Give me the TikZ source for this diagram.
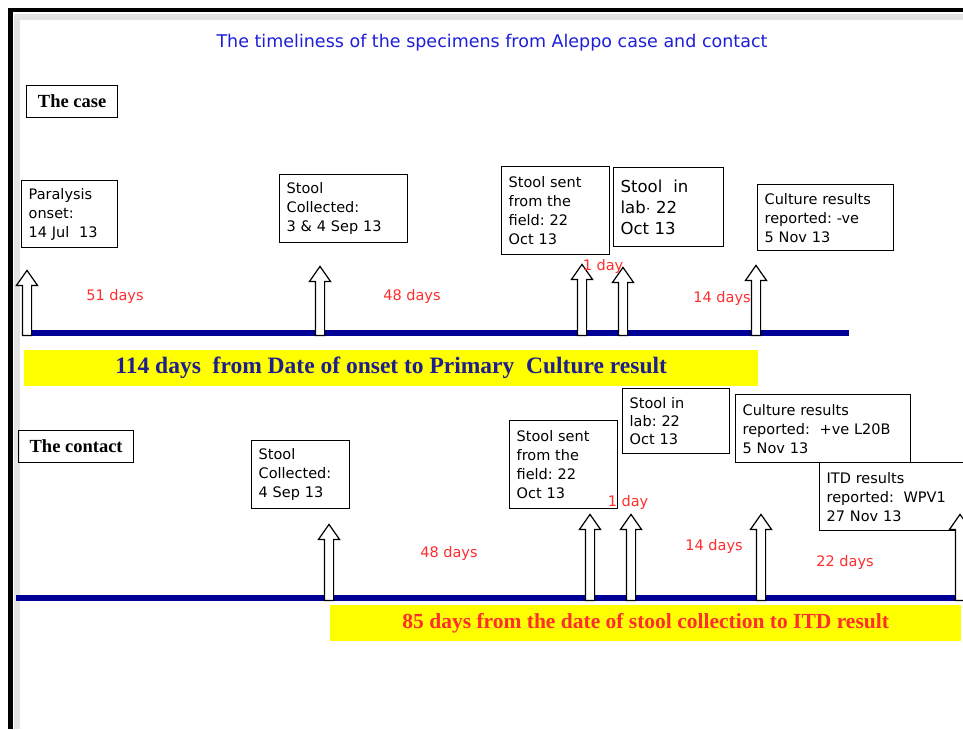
\documentclass[tikz,border=0pt]{standalone}
\usepackage{fontspec}
\setmainfont{Liberation Serif}
\newfontfamily\boxfont{DejaVu Sans}
\usepackage{tikz}
\usetikzlibrary{positioning,shapes.arrows}
\definecolor{lineblue}{RGB}{0,0,150}
\definecolor{titleblue}{RGB}{30,30,215}
\definecolor{navy}{RGB}{30,30,140}
\definecolor{dayred}{RGB}{255,45,45}
\definecolor{baryellow}{RGB}{255,255,0}
\tikzset{
    event/.style = {draw, line width=1.3pt, fill=white, anchor=north west, align=left,
                 inner xsep=7pt, inner ysep=3pt, font=\boxfont\fontsize{14.5}{19}\selectfont},
    who/.style = {draw, line width=1.3pt, anchor=north west, inner sep=0pt,
                 font=\bfseries\fontsize{18.5}{20}\selectfont},
    days/.style = {text=dayred, inner sep=0pt, font=\boxfont\fontsize{14.5}{16}\selectfont},
    uparrow/.style = {single arrow, draw, line width=1.2pt, fill=white, rotate=90, anchor=west,
                 minimum height=#1, inner xsep=0pt, inner ysep=4pt,
                 single arrow head extend=6pt, single arrow tip angle=70},
    timeline/.style = {draw=lineblue, line width=6pt},
    bar/.style = {fill=baryellow, anchor=north west, inner sep=0pt, font=\bfseries},
}
\begin{document}
\begin{tikzpicture}[x=1pt,y=-1pt]
\useasboundingbox (0,0) rectangle (963,729);
\draw[gray!22, line width=6pt] (15,17) -- (963,17);
\draw[gray!22, line width=6pt] (17,15) -- (17,729);
\draw[line width=4pt] (8,10) -- (963,10);
\draw[line width=5pt] (10,8) -- (10,729);

\node (title) [text=titleblue, font=\boxfont\fontsize{17.5}{20}\selectfont] at (492,43)
  {The timeliness of the specimens from Aleppo case and contact};

\node (case) [who, minimum width=91pt, minimum height=32pt] at (26,85) {The case};
\node (onset) [event, text width=82pt, minimum height=67pt] at (21,180) {Paralysis\\onset:\\14 Jul\ \ 13};
\node (coll1) [event, text width=114pt, minimum height=68pt] at (279,174) {Stool\\Collected:\\3 \& 4 Sep 13};
\node (sent1) [event, text width=94pt, minimum height=88pt] at (501,166) {Stool sent\\from the\\field:\ 22\\Oct 13};
\node (lab1) [event, text width=96pt, minimum height=79pt, font=\boxfont\fontsize{16.5}{21}\selectfont] at (613,167) {Stool\ \ in\\lab$\cdot$ 22\\Oct 13};
\node (cult1) [event, text width=122pt, minimum height=66pt] at (757,184) {Culture results\\reported:\ -ve\\5 Nov 13};

\coordinate (t0) at (22,333);
\coordinate (t1) at (849,333);
\draw[timeline] (t0) -- (t1);
\node (a1) [uparrow=65pt] at (27,336) {};
\node (a2) [uparrow=69pt] at (320,336) {};
\node (a3) [uparrow=71pt] at (582,336) {};
\node (a4) [uparrow=68pt] at (623,336) {};
\node (a5) [uparrow=70pt] at (756,336) {};

\node (d1) [days] at (115,296) {51 days};
\node (d2) [days] at (412,296) {48 days};
\node (d3) [days] at (603,266) {1 day};
\node (d4) [days] at (722,298) {14 days};

\node (bar1) [bar, minimum width=734pt, minimum height=36pt, text=navy,
  font=\bfseries\fontsize{23.5}{26}\selectfont] at (24,350)
  {114 days\ \ from Date of onset to Primary\ \ Culture result};

\node (contact) [who, minimum width=115pt, minimum height=32pt] at (18,430) {The contact};
\node (coll2) [event, text width=84pt, minimum height=68pt] at (251,440) {Stool\\Collected:\\4 Sep 13};
\node (sent2) [event, text width=94pt, minimum height=88pt] at (509,420) {Stool sent\\from the\\field:\ 22\\Oct 13};
\node (lab2) [event, text width=93pt, minimum height=65pt, font=\boxfont\fontsize{14.5}{18}\selectfont] at (622,388) {Stool in\\lab:\ 22\\Oct 13};
\node (cult2) [event, text width=161pt, minimum height=68pt] at (735,394) {Culture results\\reported:\ \ +ve L20B\\5 Nov 13};
\node (itd) [event, text width=136pt, minimum height=68pt] at (819,462) {ITD results\\reported:\ \ WPV1\\27 Nov 13};

\coordinate (s0) at (16,598);
\coordinate (s1) at (963,598);
\draw[timeline] (s0) -- (s1);
\node (b1) [uparrow=76pt] at (329,601) {};
\node (b2) [uparrow=86pt] at (590,601) {};
\node (b3) [uparrow=86pt] at (631,601) {};
\node (b4) [uparrow=86pt] at (761,601) {};
\node (b5) [uparrow=86pt] at (960,601) {};

\node (e1) [days] at (449,553) {48 days};
\node (e2) [days] at (628,502) {1 day};
\node (e3) [days] at (714,546) {14 days};
\node (e4) [days] at (845,562) {22 days};

\node (bar2) [bar, minimum width=631pt, minimum height=36pt, text=dayred,
  font=\bfseries\fontsize{21.5}{24}\selectfont] at (330,605)
  {85 days from the date of stool collection to ITD result};
\end{tikzpicture}
\end{document}
